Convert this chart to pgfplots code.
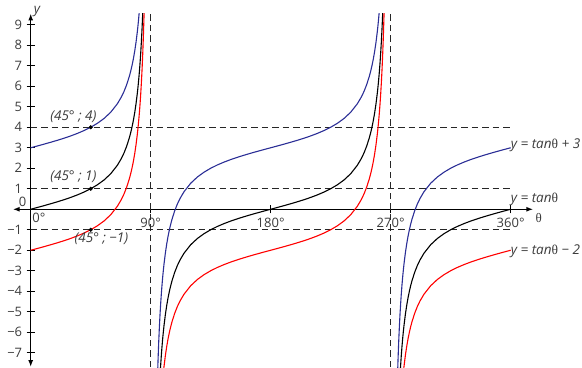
\documentclass[border=0pt]{standalone}
\usepackage{fontspec}
\setmainfont{Open Sans}
\newfontfamily\thetafont{Liberation Serif}
\usepackage{pgfplots}
\usepackage{pgfplotstable}
\pgfplotsset{compat=1.18}
\usetikzlibrary{arrows.meta}

\definecolor{curveblue}{RGB}{43,46,150}
\definecolor{labelgray}{RGB}{60,60,60}
\newcommand{\thet}{{\upshape\thetafont θ}}
\tikzset{note/.style={text=labelgray, font=\fontsize{13.5}{15}\selectfont\itshape}}

% x: angle in degrees, a = tan+3, b = tan, c = tan-2 (nan rows break the line at the asymptotes)
\pgfplotstableread{
x a b c
0 3.000 0.000 -2.000
5 3.087 0.087 -1.913
10 3.176 0.176 -1.824
15 3.268 0.268 -1.732
20 3.364 0.364 -1.636
25 3.466 0.466 -1.534
30 3.577 0.577 -1.423
35 3.700 0.700 -1.300
40 3.839 0.839 -1.161
45 4.000 1.000 -1.000
50 4.192 1.192 -0.808
55 4.428 1.428 -0.572
60 4.732 1.732 -0.268
65 5.145 2.145 0.145
68 5.475 2.475 0.475
70 5.747 2.747 0.747
72 6.078 3.078 1.078
74 6.487 3.487 1.487
75 6.732 3.732 1.732
76 7.011 4.011 2.011
77 7.331 4.331 2.331
78 7.705 4.705 2.705
79 8.145 5.145 3.145
80 8.671 5.671 3.671
80.5 8.976 5.976 3.976
81 9.314 6.314 4.314
81.5 9.691 6.691 4.691
82 10.115 7.115 5.115
82.5 10.596 7.596 5.596
83 11.144 8.144 6.144
83.5 11.777 8.777 6.777
84 12.514 9.514 7.514
84.5 13.385 10.385 8.385
85 14.430 11.430 9.430
85.5 15.706 12.706 10.706
86 17.301 14.301 12.301
88 nan nan nan
94 -11.301 -14.301 -16.301
94.5 -9.706 -12.706 -14.706
95 -8.430 -11.430 -13.430
95.5 -7.385 -10.385 -12.385
96 -6.514 -9.514 -11.514
96.5 -5.777 -8.777 -10.777
97 -5.144 -8.144 -10.144
97.5 -4.596 -7.596 -9.596
98 -4.115 -7.115 -9.115
98.5 -3.691 -6.691 -8.691
99 -3.314 -6.314 -8.314
99.5 -2.976 -5.976 -7.976
100 -2.671 -5.671 -7.671
101 -2.145 -5.145 -7.145
102 -1.705 -4.705 -6.705
103 -1.331 -4.331 -6.331
104 -1.011 -4.011 -6.011
105 -0.732 -3.732 -5.732
106 -0.487 -3.487 -5.487
108 -0.078 -3.078 -5.078
110 0.253 -2.747 -4.747
112 0.525 -2.475 -4.475
115 0.855 -2.145 -4.145
120 1.268 -1.732 -3.732
125 1.572 -1.428 -3.428
130 1.808 -1.192 -3.192
135 2.000 -1.000 -3.000
140 2.161 -0.839 -2.839
145 2.300 -0.700 -2.700
150 2.423 -0.577 -2.577
155 2.534 -0.466 -2.466
160 2.636 -0.364 -2.364
165 2.732 -0.268 -2.268
170 2.824 -0.176 -2.176
175 2.913 -0.087 -2.087
180 3.000 0.000 -2.000
185 3.087 0.087 -1.913
190 3.176 0.176 -1.824
195 3.268 0.268 -1.732
200 3.364 0.364 -1.636
205 3.466 0.466 -1.534
210 3.577 0.577 -1.423
215 3.700 0.700 -1.300
220 3.839 0.839 -1.161
225 4.000 1.000 -1.000
230 4.192 1.192 -0.808
235 4.428 1.428 -0.572
240 4.732 1.732 -0.268
245 5.145 2.145 0.145
248 5.475 2.475 0.475
250 5.747 2.747 0.747
252 6.078 3.078 1.078
254 6.487 3.487 1.487
255 6.732 3.732 1.732
256 7.011 4.011 2.011
257 7.331 4.331 2.331
258 7.705 4.705 2.705
259 8.145 5.145 3.145
260 8.671 5.671 3.671
260.5 8.976 5.976 3.976
261 9.314 6.314 4.314
261.5 9.691 6.691 4.691
262 10.115 7.115 5.115
262.5 10.596 7.596 5.596
263 11.144 8.144 6.144
263.5 11.777 8.777 6.777
264 12.514 9.514 7.514
264.5 13.385 10.385 8.385
265 14.430 11.430 9.430
265.5 15.706 12.706 10.706
266 17.301 14.301 12.301
268 nan nan nan
274 -11.301 -14.301 -16.301
274.5 -9.706 -12.706 -14.706
275 -8.430 -11.430 -13.430
275.5 -7.385 -10.385 -12.385
276 -6.514 -9.514 -11.514
276.5 -5.777 -8.777 -10.777
277 -5.144 -8.144 -10.144
277.5 -4.596 -7.596 -9.596
278 -4.115 -7.115 -9.115
278.5 -3.691 -6.691 -8.691
279 -3.314 -6.314 -8.314
279.5 -2.976 -5.976 -7.976
280 -2.671 -5.671 -7.671
281 -2.145 -5.145 -7.145
282 -1.705 -4.705 -6.705
283 -1.331 -4.331 -6.331
284 -1.011 -4.011 -6.011
285 -0.732 -3.732 -5.732
286 -0.487 -3.487 -5.487
288 -0.078 -3.078 -5.078
290 0.253 -2.747 -4.747
292 0.525 -2.475 -4.475
295 0.855 -2.145 -4.145
300 1.268 -1.732 -3.732
305 1.572 -1.428 -3.428
310 1.808 -1.192 -3.192
315 2.000 -1.000 -3.000
320 2.161 -0.839 -2.839
325 2.300 -0.700 -2.700
330 2.423 -0.577 -2.577
335 2.534 -0.466 -2.466
340 2.636 -0.364 -2.364
345 2.732 -0.268 -2.268
350 2.824 -0.176 -2.176
355 2.913 -0.087 -2.087
360 3.000 0.000 -2.000
}\tandata

\begin{document}
\begin{tikzpicture}
\begin{axis}[
  scale only axis,
  width=520.6pt, height=353.6pt,
  xmin=-13.5, xmax=377, ymin=-7.7, ymax=9.55,
  axis lines=middle,
  axis line style={line width=1.4pt, black,
    {Latex[length=7pt,width=5pt]}-{Latex[length=7pt,width=5pt]}},
  clip mode=individual,
  unbounded coords=jump,
  font=\fontsize{13}{15}\selectfont,
  tick align=center, major tick length=8pt,
  tick style={black, line width=1pt},
  xtick={90,180,270,360},
  xticklabels={90°,180°,270°,360°},
  ytick={-7,-6,-5,-4,-3,-2,-1,1,2,3,4,5,6,7,8,9},
  yticklabels={−7,−6,−5,−4,−3,−2,−1,1,2,3,4,5,6,7,8,9},
  xticklabel style={anchor=north, yshift=-1pt, text=labelgray},
  yticklabel style={anchor=east, xshift=-1pt, text=labelgray},
  dash/.style={black!85, line width=0.9pt, dash pattern=on 6.5pt off 4pt},
]
% guide lines
\addplot[dash] coordinates {(0,4) (360,4)};
\addplot[dash] coordinates {(0,1) (360,1)};
\addplot[dash] coordinates {(0,-1) (360,-1)};
\addplot[dash] coordinates {(90,-7.7) (90,9.55)};
\addplot[dash] coordinates {(270,-7.7) (270,9.55)};

% the three curves
\addplot[curveblue, line width=1.1pt] table[x=x, y=a] {\tandata};
\addplot[black, line width=1.1pt] table[x=x, y=b] {\tandata};
\addplot[red, line width=1.1pt] table[x=x, y=c] {\tandata};

\addplot[only marks, mark=*, mark size=1.8pt, black] coordinates {(45,4) (45,1) (45,-1)};

% annotations
\node[note] at (axis cs:32,4.5) {(45° ; 4)};
\node[note] at (axis cs:32,1.57) {(45° ; 1)};
\node[note] at (axis cs:53,-1.42) {(45° ; −1)};
\node[text=labelgray] at (axis cs:-6,0.37) {0};
\node[text=labelgray] at (axis cs:6.2,-0.42) {0°};
\node[note] at (axis cs:4.7,9.67) {y};
\node[text=labelgray] at (axis cs:381,-0.42) {\thet};
\node[note, anchor=west, inner sep=0pt] at (axis cs:360,3.13) {y = tan\thet{} + 3};
\node[note, anchor=west, inner sep=0pt] at (axis cs:360,0.5) {y = tan\thet};
\node[note, anchor=west, inner sep=0pt] at (axis cs:360,-2.05) {y = tan\thet{} − 2};
\end{axis}
\pgfresetboundingbox
\path[use as bounding box] ([xshift=-12.7pt]current axis.south west) rectangle ([xshift=48.7pt,yshift=13.5pt]current axis.north east);
\end{tikzpicture}
\end{document}
